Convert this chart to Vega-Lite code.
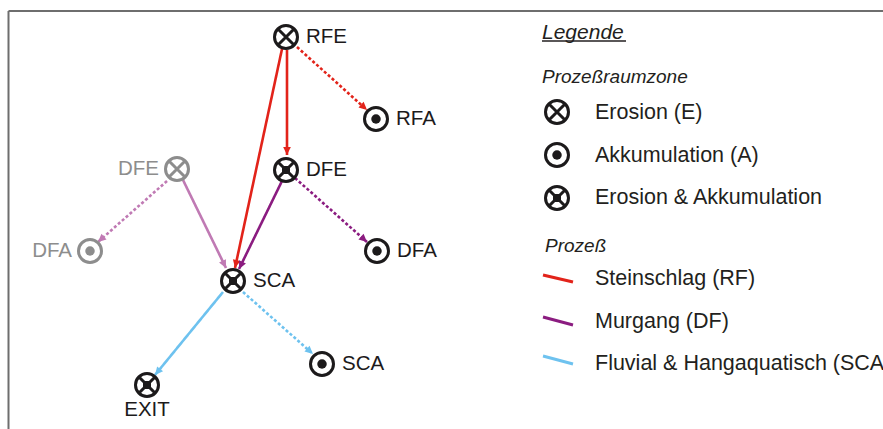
{
  "$schema": "https://vega.github.io/schema/vega-lite/v6.json",
  "width": 883,
  "height": 429,
  "padding": 0,
  "autosize": {"type": "none"},
  "background": "white",
  "config": {"view": {"stroke": null}},
  "datasets": {
    "nodes": [
      {"id": "RFE", "x": 286, "y": 37, "type": "E", "col": "black", "label": "RFE", "pos": "r"},
      {"id": "RFA", "x": 376, "y": 119, "type": "A", "col": "black", "label": "RFA", "pos": "r"},
      {"id": "DFE", "x": 286, "y": 170, "type": "EA", "col": "black", "label": "DFE", "pos": "r"},
      {"id": "DFEg", "x": 177, "y": 169, "type": "E", "col": "gray", "label": "DFE", "pos": "l"},
      {"id": "DFAg", "x": 90, "y": 251, "type": "A", "col": "gray", "label": "DFA", "pos": "l"},
      {"id": "DFA", "x": 377, "y": 251, "type": "A", "col": "black", "label": "DFA", "pos": "r"},
      {"id": "SCA", "x": 233, "y": 281, "type": "EA", "col": "black", "label": "SCA", "pos": "r"},
      {"id": "SCAa", "x": 322, "y": 364, "type": "A", "col": "black", "label": "SCA", "pos": "r"},
      {"id": "EXIT", "x": 147, "y": 385, "type": "EA", "col": "black", "label": "EXIT", "pos": "b"},
      {"id": "legE", "x": 557, "y": 112, "type": "E", "col": "black", "label": "", "pos": "none"},
      {"id": "legA", "x": 557, "y": 155, "type": "A", "col": "black", "label": "", "pos": "none"},
      {"id": "legEA", "x": 557, "y": 198, "type": "EA", "col": "black", "label": "", "pos": "none"}
    ],
    "edges": [
      {"x": 282, "y": 49, "x2": 235, "y2": 268, "proc": "RF", "dash": "solid"},
      {"x": 287, "y": 50, "x2": 287, "y2": 155, "proc": "RF", "dash": "solid"},
      {"x": 297, "y": 47, "x2": 367, "y2": 110, "proc": "RF", "dash": "dotted"},
      {"x": 282, "y": 181, "x2": 239, "y2": 269, "proc": "DF", "dash": "solid"},
      {"x": 295, "y": 178, "x2": 367, "y2": 242, "proc": "DF", "dash": "dotted"},
      {"x": 183, "y": 180, "x2": 226, "y2": 268, "proc": "DFg", "dash": "solid"},
      {"x": 167, "y": 181, "x2": 98, "y2": 242, "proc": "DFg", "dash": "dotted"},
      {"x": 223, "y": 292, "x2": 155, "y2": 375, "proc": "SCA", "dash": "solid"},
      {"x": 243, "y": 292, "x2": 313, "y2": 354, "proc": "SCA", "dash": "dotted"}
    ],
    "legendLines": [
      {"x": 543, "y": 275, "x2": 573, "y2": 282, "proc": "RF"},
      {"x": 543, "y": 317, "x2": 573, "y2": 325, "proc": "DF"},
      {"x": 543, "y": 356, "x2": 573, "y2": 364, "proc": "SCA"}
    ],
    "frame": [
      {"x": 8.5, "y": 11, "x2": 883, "y2": 11},
      {"x": 8.5, "y": 11, "x2": 8.5, "y2": 429}
    ],
    "legendText": [
      {"x": 542, "y": 33, "text": "Legende", "kind": "title"},
      {"x": 542, "y": 77, "text": "Prozeßraumzone", "kind": "sub"},
      {"x": 545, "y": 246, "text": "Prozeß", "kind": "sub"},
      {"x": 595, "y": 113, "text": "Erosion (E)", "kind": "item"},
      {"x": 595, "y": 156, "text": "Akkumulation (A)", "kind": "item"},
      {"x": 595, "y": 198, "text": "Erosion & Akkumulation", "kind": "item"},
      {"x": 595, "y": 279, "text": "Steinschlag (RF)", "kind": "item"},
      {"x": 595, "y": 322, "text": "Murgang (DF)", "kind": "item"},
      {"x": 595, "y": 364, "text": "Fluvial & Hangaquatisch (SCA)", "kind": "item"}
    ],
    "underline": [
      {"x": 542, "x2": 626, "y": 41}
    ]
  },
  "layer": [
    {
      "data": {"name": "frame"},
      "mark": {"type": "rule", "stroke": "#6e6e6e", "strokeWidth": 2},
      "encoding": {
        "x": {"field": "x", "type": "quantitative", "axis": null, "scale": {"domain": [0, 883], "nice": false, "zero": false}},
        "y": {"field": "y", "type": "quantitative", "axis": null, "scale": {"domain": [0, 429], "nice": false, "zero": false, "reverse": true}},
        "x2": {"field": "x2"},
        "y2": {"field": "y2"}
      }
    },
    {
      "data": {"name": "edges"},
      "mark": {"type": "rule", "strokeWidth": 2.6},
      "encoding": {
        "x": {"field": "x", "type": "quantitative"},
        "y": {"field": "y", "type": "quantitative"},
        "x2": {"field": "x2"},
        "y2": {"field": "y2"},
        "stroke": {"field": "proc", "type": "nominal", "legend": null,
          "scale": {"domain": ["black", "gray", "RF", "DF", "DFg", "SCA"], "range": ["#1c1a1b", "#8d8d8d", "#e2231a", "#8b1c80", "#c07ab4", "#6ec2ef"]}},
        "strokeDash": {"field": "dash", "type": "nominal", "legend": null,
          "scale": {"domain": ["solid", "dotted"], "range": [[1, 0], [3, 2.2]]}}
      }
    },
    {
      "data": {"name": "edges"},
      "transform": [
        {"calculate": "atan2(datum.x2 - datum.x, datum.y - datum.y2) * 180 / PI", "as": "ang"}
      ],
      "mark": {"type": "point", "shape": "M0,0L-0.48,1L0.48,1Z", "filled": true, "size": 256, "opacity": 1, "strokeWidth": 0},
      "encoding": {
        "x": {"field": "x2", "type": "quantitative"},
        "y": {"field": "y2", "type": "quantitative"},
        "angle": {"field": "ang", "type": "quantitative", "scale": null},
        "fill": {"field": "proc", "type": "nominal", "legend": null,
          "scale": {"domain": ["black", "gray", "RF", "DF", "DFg", "SCA"], "range": ["#1c1a1b", "#8d8d8d", "#e2231a", "#8b1c80", "#c07ab4", "#6ec2ef"]}}
      }
    },
    {
      "data": {"name": "legendLines"},
      "mark": {"type": "rule", "strokeWidth": 3},
      "encoding": {
        "x": {"field": "x", "type": "quantitative"},
        "y": {"field": "y", "type": "quantitative"},
        "x2": {"field": "x2"},
        "y2": {"field": "y2"},
        "stroke": {"field": "proc", "type": "nominal", "legend": null,
          "scale": {"domain": ["black", "gray", "RF", "DF", "DFg", "SCA"], "range": ["#1c1a1b", "#8d8d8d", "#e2231a", "#8b1c80", "#c07ab4", "#6ec2ef"]}}
      }
    },
    {
      "data": {"name": "nodes"},
      "mark": {"type": "point", "shape": "circle", "filled": true, "fill": "white", "size": 529, "strokeWidth": 3, "opacity": 1},
      "encoding": {
        "x": {"field": "x", "type": "quantitative"},
        "y": {"field": "y", "type": "quantitative"},
        "stroke": {"field": "col", "type": "nominal", "legend": null,
          "scale": {"domain": ["black", "gray", "RF", "DF", "DFg", "SCA"], "range": ["#1c1a1b", "#8d8d8d", "#e2231a", "#8b1c80", "#c07ab4", "#6ec2ef"]}}
      }
    },
    {
      "data": {"name": "nodes"},
      "transform": [{"filter": "datum.type === 'E' || datum.type === 'EA'"}],
      "mark": {"type": "point", "shape": "M-0.72,-0.72L0.72,0.72M-0.72,0.72L0.72,-0.72", "filled": false, "size": 529, "strokeWidth": 3, "opacity": 1},
      "encoding": {
        "x": {"field": "x", "type": "quantitative"},
        "y": {"field": "y", "type": "quantitative"},
        "stroke": {"field": "col", "type": "nominal", "legend": null,
          "scale": {"domain": ["black", "gray", "RF", "DF", "DFg", "SCA"], "range": ["#1c1a1b", "#8d8d8d", "#e2231a", "#8b1c80", "#c07ab4", "#6ec2ef"]}}
      }
    },
    {
      "data": {"name": "nodes"},
      "transform": [{"filter": "datum.type === 'EA'"}],
      "mark": {"type": "point", "shape": "square", "filled": true, "size": 64, "opacity": 1, "strokeWidth": 0},
      "encoding": {
        "x": {"field": "x", "type": "quantitative"},
        "y": {"field": "y", "type": "quantitative"},
        "fill": {"field": "col", "type": "nominal", "legend": null,
          "scale": {"domain": ["black", "gray", "RF", "DF", "DFg", "SCA"], "range": ["#1c1a1b", "#8d8d8d", "#e2231a", "#8b1c80", "#c07ab4", "#6ec2ef"]}}
      }
    },
    {
      "data": {"name": "nodes"},
      "transform": [{"filter": "datum.type === 'A'"}],
      "mark": {"type": "point", "shape": "circle", "filled": true, "size": 90, "opacity": 1, "strokeWidth": 0},
      "encoding": {
        "x": {"field": "x", "type": "quantitative"},
        "y": {"field": "y", "type": "quantitative"},
        "fill": {"field": "col", "type": "nominal", "legend": null,
          "scale": {"domain": ["black", "gray", "RF", "DF", "DFg", "SCA"], "range": ["#1c1a1b", "#8d8d8d", "#e2231a", "#8b1c80", "#c07ab4", "#6ec2ef"]}}
      }
    },
    {
      "data": {"name": "nodes"},
      "transform": [{"filter": "datum.pos === 'r'"}],
      "mark": {"type": "text", "align": "left", "baseline": "middle", "dx": 20, "font": "Liberation Sans", "fontSize": 20.5},
      "encoding": {
        "x": {"field": "x", "type": "quantitative"},
        "y": {"field": "y", "type": "quantitative"},
        "text": {"field": "label"},
        "fill": {"field": "col", "type": "nominal", "legend": null,
          "scale": {"domain": ["black", "gray", "RF", "DF", "DFg", "SCA"], "range": ["#1c1a1b", "#8d8d8d", "#e2231a", "#8b1c80", "#c07ab4", "#6ec2ef"]}}
      }
    },
    {
      "data": {"name": "nodes"},
      "transform": [{"filter": "datum.pos === 'l'"}],
      "mark": {"type": "text", "align": "right", "baseline": "middle", "dx": -18, "font": "Liberation Sans", "fontSize": 20.5},
      "encoding": {
        "x": {"field": "x", "type": "quantitative"},
        "y": {"field": "y", "type": "quantitative"},
        "text": {"field": "label"},
        "fill": {"field": "col", "type": "nominal", "legend": null,
          "scale": {"domain": ["black", "gray", "RF", "DF", "DFg", "SCA"], "range": ["#1c1a1b", "#8d8d8d", "#e2231a", "#8b1c80", "#c07ab4", "#6ec2ef"]}}
      }
    },
    {
      "data": {"name": "nodes"},
      "transform": [{"filter": "datum.pos === 'b'"}],
      "mark": {"type": "text", "align": "center", "baseline": "middle", "dy": 25, "font": "Liberation Sans", "fontSize": 20.5},
      "encoding": {
        "x": {"field": "x", "type": "quantitative"},
        "y": {"field": "y", "type": "quantitative"},
        "text": {"field": "label"},
        "fill": {"field": "col", "type": "nominal", "legend": null,
          "scale": {"domain": ["black", "gray", "RF", "DF", "DFg", "SCA"], "range": ["#1c1a1b", "#8d8d8d", "#e2231a", "#8b1c80", "#c07ab4", "#6ec2ef"]}}
      }
    },
    {
      "data": {"name": "legendText"},
      "transform": [{"filter": "datum.kind === 'title'"}],
      "mark": {"type": "text", "align": "left", "baseline": "middle", "font": "Liberation Sans", "fontSize": 21, "fontStyle": "italic", "fill": "#231f20"},
      "encoding": {
        "x": {"field": "x", "type": "quantitative"},
        "y": {"field": "y", "type": "quantitative"},
        "text": {"field": "text"}
      }
    },
    {
      "data": {"name": "underline"},
      "mark": {"type": "rule", "stroke": "#231f20", "strokeWidth": 1.5},
      "encoding": {
        "x": {"field": "x", "type": "quantitative"},
        "x2": {"field": "x2"},
        "y": {"field": "y", "type": "quantitative"}
      }
    },
    {
      "data": {"name": "legendText"},
      "transform": [{"filter": "datum.kind === 'sub'"}],
      "mark": {"type": "text", "align": "left", "baseline": "middle", "font": "Liberation Sans", "fontSize": 19, "fontStyle": "italic", "fill": "#231f20"},
      "encoding": {
        "x": {"field": "x", "type": "quantitative"},
        "y": {"field": "y", "type": "quantitative"},
        "text": {"field": "text"}
      }
    },
    {
      "data": {"name": "legendText"},
      "transform": [{"filter": "datum.kind === 'item'"}],
      "mark": {"type": "text", "align": "left", "baseline": "middle", "font": "Liberation Sans", "fontSize": 21.5, "fill": "#231f20"},
      "encoding": {
        "x": {"field": "x", "type": "quantitative"},
        "y": {"field": "y", "type": "quantitative"},
        "text": {"field": "text"}
      }
    }
  ]
}
